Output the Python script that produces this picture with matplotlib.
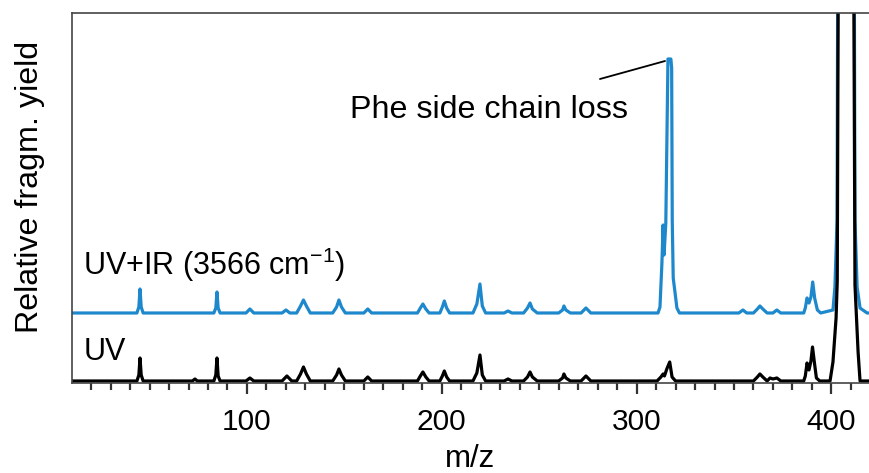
import numpy as np
import matplotlib
matplotlib.use("Agg")
import matplotlib.pyplot as plt
from matplotlib.ticker import MultipleLocator

plt.rcParams['font.family'] = ['Liberation Sans', 'DejaVu Sans']
plt.rcParams['mathtext.fontset'] = 'custom'
plt.rcParams['mathtext.rm'] = 'Liberation Sans'
plt.rcParams['mathtext.it'] = 'Liberation Sans:italic'

# UV only spectrum (m/z, relative fragment yield, arbitrary units)
uv_mz = [10, 43.5, 44.5, 45.1, 45.7, 46.7, 72, 73.3, 74.5,
         83, 84, 84.6, 85.2, 86.2, 99.5, 101.5, 103.5, 118, 120.5, 123,
         125.5, 127.5, 129, 130.5, 132.5, 144, 146, 147.2, 148.5, 150.5,
         160, 162, 164, 187.5, 189, 190.3, 191.8, 193.5,
         199, 200.3, 201.3, 202.5, 204, 216, 218, 219.6, 220.8, 222.5,
         232, 234, 236, 242, 244, 245.3, 246.5, 249,
         260, 262, 262.7, 263.7, 266, 271.5, 274, 276.5,
         310.5, 312.5, 313.6, 314.3, 315.5, 317, 318.2, 320,
         360, 362, 363.3, 364.8, 367, 368.5, 370, 372, 374,
         385.8, 386.6, 387.5, 388.5, 389.5, 390.3, 391.3, 392.3, 394,
         399.3, 400.8, 402.4, 403.0, 403.6, 407.5, 411.4, 412.1, 413.7, 414.7, 420]
uv_int = [0, 0, 0.06, 0.23, 0.06, 0, 0, 0.02, 0,
          0, 0.06, 0.23, 0.05, 0, 0, 0.03, 0, 0, 0.05, 0,
          0, 0.07, 0.14, 0.07, 0, 0, 0.06, 0.12, 0.06, 0,
          0, 0.04, 0, 0, 0.05, 0.09, 0.04, 0,
          0, 0.05, 0.10, 0.04, 0, 0, 0.08, 0.26, 0.06, 0,
          0, 0.02, 0, 0, 0.04, 0.09, 0.04, 0,
          0, 0.03, 0.07, 0.03, 0, 0, 0.05, 0,
          0, 0.04, 0.07, 0.05, 0.12, 0.19, 0.04, 0,
          0, 0.04, 0.07, 0.04, 0, 0.03, 0.02, 0.03, 0,
          0, 0.05, 0.18, 0.11, 0.20, 0.34, 0.18, 0.03, 0,
          0, 0.19, 0.63, 1.0, 4.5, 8.0, 4.5, 0.96, 0.29, 0, 0]

# UV + IR (3566 cm-1) spectrum
uvir_mz = [10, 43.5, 44.5, 45.1, 45.7, 46.7, 83, 84, 84.6, 85.2, 86.2,
           99.5, 101.5, 103.5, 118, 120, 122,
           125.5, 127.5, 129, 130.5, 132.5, 144, 146, 147.2, 148.5, 150.5,
           160, 162, 164, 187.5, 189, 190.3, 191.8, 193.5,
           199, 200.3, 201.3, 202.5, 204, 216, 218, 219.6, 220.8, 222.5,
           232, 234, 236, 242, 244, 245.3, 246.5, 249,
           260, 262, 262.7, 263.7, 266, 271.5, 274, 276.5,
           311, 312, 313, 313.6, 314.1, 315.0, 316.1, 317.6, 318.0, 318.3, 318.8, 320.7, 322,
           352.5, 354.6, 356.5, 360, 362, 363.3, 364.8, 367, 370, 372, 374,
           385.8, 386.6, 387.5, 388.5, 389.5, 390.4, 391.4, 392.8, 394.5,
           400.8, 401.8, 402.9, 403.4, 407.5, 411.6, 412.1, 413.2, 414.7, 418.3, 420]
uvir_int = [0, 0, 0.06, 0.24, 0.06, 0, 0, 0.05, 0.21, 0.05, 0,
            0, 0.04, 0, 0, 0.03, 0,
            0, 0.07, 0.13, 0.07, 0, 0, 0.06, 0.13, 0.06, 0,
            0, 0.04, 0, 0, 0.05, 0.09, 0.04, 0,
            0, 0.06, 0.12, 0.05, 0, 0, 0.09, 0.29, 0.07, 0,
            0, 0.02, 0, 0, 0.05, 0.10, 0.04, 0,
            0, 0.03, 0.07, 0.03, 0, 0, 0.05, 0,
            0, 0.06, 0.50, 0.88, 0.58, 0.9, 2.54, 2.54, 2.45, 0.93, 0.35, 0.05, 0,
            0, 0.03, 0, 0, 0.04, 0.07, 0.04, 0, 0, 0.03, 0,
            0, 0.05, 0.15, 0.10, 0.16, 0.31, 0.15, 0.03, 0,
            0.03, 0.26, 0.93, 4.5, 8.0, 4.5, 0.93, 0.26, 0.05, 0, 0]

uvir_offset = 0.68

fig = plt.figure(figsize=(8.69, 4.73), dpi=100)
ax = fig.add_axes([0.0829, 0.1903, 0.9171, 0.7822])

ax.plot(uvir_mz, np.array(uvir_int) + uvir_offset, color='#1e88cc', lw=2.3)
ax.plot(uv_mz, uv_int, color='black', lw=2.3)

ax.set_xlim(10.2, 419.3)
ax.set_ylim(-0.02, 3.68)

for s in ['left', 'top', 'bottom']:
    ax.spines[s].set_color('#444444')
    ax.spines[s].set_linewidth(1.2)
ax.spines['right'].set_visible(False)

ax.set_yticks([])
ax.xaxis.set_major_locator(MultipleLocator(100))
ax.xaxis.set_minor_locator(MultipleLocator(10))
ax.tick_params(axis='x', which='major', direction='out', length=8, width=1.6,
               color='#333333', labelsize=21.5, pad=10)
ax.tick_params(axis='x', which='minor', direction='out', length=4.8, width=1.6,
               color='#333333')

ax.set_xlabel('m/z', fontsize=22.5, labelpad=6)
ax.set_ylabel('Relative fragm. yield', fontsize=23.2)
ax.yaxis.set_label_coords(-0.034, 0.53)

ax.text(15.8, 1.06, r'UV+IR (3566 cm$^{-1}$)', fontsize=22, va='baseline')
ax.text(16.3, 0.21, 'UV', fontsize=22, va='baseline')

ax.text(152.9, 2.63, 'Phe side chain loss', fontsize=23.2, va='baseline')
ax.annotate('', xy=(314.6, 3.20), xytext=(281.2, 3.02),
            arrowprops=dict(arrowstyle='-', lw=1.3, color='black',
                            shrinkA=0, shrinkB=0))

fig.savefig('out.png', dpi=100)
